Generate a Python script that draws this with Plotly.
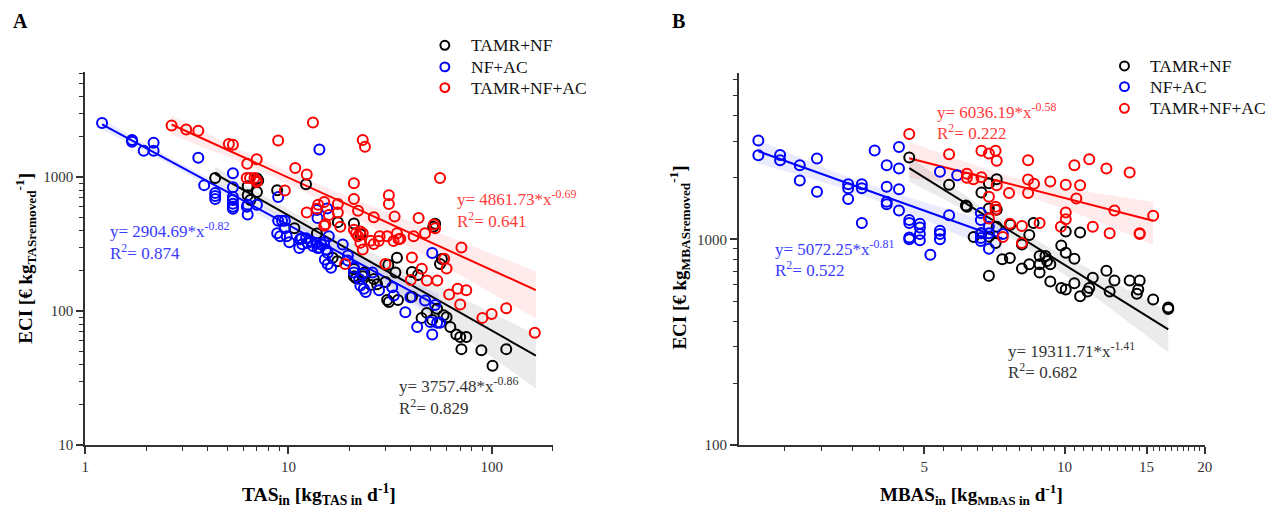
import numpy as np
import plotly.graph_objects as go

# ---------------- Panel A data: TAS_in vs ECI ----------------
A_TN_x = [4.36, 6.3, 6.3, 6.5, 7.0, 7.1, 7.0, 8.8, 10.7, 12.2, 13.8, 17.5, 17.4, 16.5, 21.0, 22.6, 21.0, 21.5, 21.0, 23.2,
          23.6, 25.4, 26.3, 27.3, 30.0, 30.6, 31.2, 34.6, 31.0, 33.6, 34.2, 40.5, 43.4, 40.5, 45.2, 48.0, 51.0, 53.9, 51.6, 52.7,
          55.7, 56.9, 58.0, 60.0, 62.6, 67.0, 70.0, 75.0, 71.0, 89.0, 101.0, 118.0]
A_TN_y = [985, 855, 735, 675, 980, 945, 775, 800, 415, 885, 380, 462, 236, 250, 452, 375, 182, 176, 206, 182,
          194, 157, 174, 159, 165, 121, 117, 121, 222, 194, 250, 196, 186, 128, 89, 97, 86, 104, 426, 450,
          225, 245, 93, 90, 76, 67, 64, 64, 52, 51, 39, 52]

A_NA_x = [1.21, 1.70, 1.70, 1.94, 2.17, 2.17, 3.60, 14.2, 3.85, 4.36, 4.36, 4.36, 5.33, 5.33, 5.33, 5.33, 5.33, 5.33, 5.33,
          6.3, 6.3, 7.0, 6.24, 8.9, 8.9, 9.3, 9.6, 8.8, 9.1, 9.6, 9.8, 10.1, 11.4, 11.7, 11.3, 11.6, 12.2, 12.4, 12.9, 13.2, 13.9,
          13.7, 14.5, 14.2, 13.8, 13.9, 15.5, 15.0, 15.3, 15.6, 15.1, 15.6, 16.2, 15.8, 18.5, 19.6, 19.6, 21.0, 21.0,
          22.3, 23.2, 22.6, 24.0, 23.5, 25.9, 27.9, 32.4, 33.0, 39.8, 37.6, 43.0, 47.0, 49.9, 51.0, 52.7, 53.9, 55.7, 51.0]
A_NA_y = [2540, 1900, 1840, 1580, 1810, 1580, 1400, 1610, 873, 763, 724, 689, 1070, 843, 713, 677, 633, 601, 582,
          622, 526, 622, 601, 713, 474, 474, 474, 381, 362, 415, 362, 327, 344, 316, 296, 350, 350, 322, 333, 306, 296,
          323, 315, 297, 569, 496, 585, 327, 289, 272, 243, 224, 211, 362, 314, 260, 239, 211, 194,
          174, 189, 155, 139, 147, 194, 143, 151, 131, 127, 98, 76, 120, 83, 67, 111, 82, 82, 272]

A_TNA_x = [2.66, 3.14, 3.6, 5.09, 5.33, 6.27, 6.98, 6.23, 6.47, 6.8, 6.98, 6.98, 8.9, 9.6, 10.8, 12.3, 12.3, 13.2, 13.8, 14.0,
           15.0, 15.0, 15.2, 15.8, 17.5, 17.5, 18.0, 19.0, 21.0, 21.0, 22.0, 21.0, 21.5, 22.0, 22.6, 23.2, 23.2, 23.8, 26.3, 22.6,
           23.2, 25.4, 26.3, 27.8, 28.1, 30.6, 32.9, 34.2, 34.8, 35.5, 41.3, 47.0, 31.2, 31.2, 33.3, 43.7, 52.0, 52.7, 55.7, 71.0,
           30.0, 40.5, 45.3, 48.0, 54.0, 58.4, 60.0, 40.0, 61.8, 68.0, 75.0, 70.0, 90.0, 100.0, 118.0, 163.0]
A_TNA_y = [2430, 2270, 2220, 1770, 1750, 1262, 1365, 985, 985, 985, 945, 920, 1880, 795, 1170, 1050, 545, 2560, 582, 622,
           654, 434, 446, 522, 630, 545, 426, 225, 900, 689, 562, 405, 381, 362, 324, 289, 1900, 1690, 502, 393,
           381, 336, 317, 334, 362, 362, 334, 381, 344, 347, 362, 381, 735, 630, 508, 495, 444, 415, 985, 298,
           225, 251, 207, 169, 169, 246, 208, 171, 133, 147, 143, 112, 89, 95, 105, 69]

# ---------------- Panel B data: MBAS_in vs ECI ----------------
B_TN_x = [4.64, 5.65, 6.14, 6.17, 6.63, 6.88, 7.15, 6.88, 7.15, 6.38, 6.63, 6.88, 7.15, 7.11, 7.65, 6.88, 7.35, 7.63, 8.1, 8.4,
          8.58, 8.1, 8.4, 8.84, 8.84, 8.84, 9.1, 9.17, 9.32, 9.32, 10.06, 10.8, 9.84, 10.06, 10.5, 9.84, 10.06, 10.5, 10.8, 11.2,
          11.3, 11.5, 12.3, 12.5, 12.8, 13.8, 14.5, 14.4, 14.3, 15.5, 16.7, 16.7]
B_TN_y = [2500, 1840, 1460, 1440, 1690, 1870, 1960, 1410, 1390, 1025, 1070, 1030, 1150, 960, 1175, 665, 800, 810, 943, 1050,
          1200, 720, 757, 829, 757, 690, 829, 785, 757, 623, 1090, 1080, 933, 860, 805, 580, 570, 612, 528, 558,
          580, 650, 703, 558, 630, 630, 630, 570, 543, 510, 466, 458]

B_NA_x = [2.20, 2.20, 2.45, 2.45, 2.70, 2.70, 2.94, 2.94, 3.43, 3.43, 3.43, 3.67, 3.67, 3.67, 3.91, 4.15, 4.15, 4.15, 4.15,
          4.41, 4.41, 4.41, 4.41, 4.64, 4.64, 4.64, 4.64, 4.89, 4.89, 4.89, 4.89, 5.40, 5.40, 5.40, 5.15, 5.40, 5.88, 5.65,
          6.61, 6.61, 6.61, 6.61, 6.61, 6.88, 6.88, 6.88, 7.37]
B_NA_y = [3020, 2560, 2570, 2420, 2290, 1930, 2470, 1700, 1850, 1770, 1570, 1850, 1770, 1200, 2700, 2290, 1800, 1520, 1480,
          2810, 2210, 1750, 1380, 1240, 1200, 1020, 1000, 1190, 1140, 1060, 990, 1100, 1060, 1000, 840, 2130, 2050, 1310,
          1340, 1240, 1070, 1015, 980, 1150, 1070, 900, 1060]

B_TNA_x = [4.64, 5.65, 6.63, 6.88, 7.11, 7.15, 6.17, 6.17, 6.37, 6.63, 7.15, 6.88, 7.6, 7.11, 7.11, 6.88, 8.35, 8.35, 8.35, 8.6,
           7.63, 8.1, 8.84, 8.1, 7.37, 9.32, 10.06, 10.5, 10.8, 10.6, 11.3, 12.3, 13.8, 10.06, 10.06, 9.82, 11.5, 12.5, 12.8,
           14.5, 14.5, 15.5]
B_TNA_y = [3250, 2590, 2690, 2610, 2690, 2410, 2080, 1990, 1960, 2000, 1830, 1610, 1680, 1440, 1390, 1260, 2420, 1950, 1680, 1860,
           1190, 1160, 1200, 960, 1025, 1910, 1840, 2290, 1830, 1580, 2450, 2210, 2110, 1350, 1250, 1150, 1150, 1070, 1380,
           1070, 1060, 1300]

# ---------------- Power-law fits (y = a * x^b) ----------------
SERIES = ["TAMR+NF", "NF+AC", "TAMR+NF+AC"]
A_fit_a = [3757.48, 2904.69, 4861.73]
A_fit_b = [-0.86, -0.82, -0.69]
A_fit_r2 = [0.829, 0.874, 0.641]
A_fit_xmin = [4.36, 1.21, 2.66]
A_fit_xmax = [165.0, 55.0, 165.0]

B_fit_a = [19311.71, 5072.25, 6036.19]
B_fit_b = [-1.41, -0.81, -0.58]
B_fit_r2 = [0.682, 0.522, 0.222]
B_fit_xmin = [4.64, 2.20, 4.64]
B_fit_xmax = [16.7, 7.35, 15.5]

COLORS = ["#000000", "#0000FF", "#FF0000"]
BAND_COLORS = ["rgba(0,0,0,0.08)", "rgba(0,0,255,0.08)", "rgba(255,0,0,0.08)"]
TEXT_COLORS = ["#333333", "#3a3aff", "#ff3a3a"]
FONT = "Liberation Serif"
T_VAL = 1.97

W, H = 1287, 515


def px(x):
    return x / W


def py(y):
    return 1 - y / H


def band(xs, ys, a, b, xmin, xmax):
    """95% confidence band of the nonlinear power fit (delta method, linear-space residuals)."""
    x = np.array(xs, float)
    y = np.array(ys, float)
    n = len(x)
    res = y - a * x ** b
    s2 = np.sum(res ** 2) / (n - 2)
    J = np.column_stack([x ** b, a * x ** b * np.log(x)])
    cov = s2 * np.linalg.inv(J.T @ J)
    xg = np.logspace(np.log10(xmin), np.log10(xmax), 80)
    G = np.column_stack([xg ** b, a * xg ** b * np.log(xg)])
    var = np.einsum("ij,jk,ik->i", G, cov, G)
    hw = T_VAL * np.sqrt(var)
    yf = a * xg ** b
    up = yf + hw
    lo = np.maximum(yf - hw, yf * 0.05)
    return xg, yf, up, lo


fig = go.Figure()

panels = [
    dict(xa="x", ya="y",
         data=[(A_TN_x, A_TN_y), (A_NA_x, A_NA_y), (A_TNA_x, A_TNA_y)],
         fa=A_fit_a, fb=A_fit_b, fmin=A_fit_xmin, fmax=A_fit_xmax),
    dict(xa="x2", ya="y2",
         data=[(B_TN_x, B_TN_y), (B_NA_x, B_NA_y), (B_TNA_x, B_TNA_y)],
         fa=B_fit_a, fb=B_fit_b, fmin=B_fit_xmin, fmax=B_fit_xmax),
]

for p in panels:
    fits = []
    for i in range(3):
        xs, ys = p["data"][i]
        fits.append(band(xs, ys, p["fa"][i], p["fb"][i], p["fmin"][i], p["fmax"][i]))
    for i in range(3):
        xg, yf, up, lo = fits[i]
        fig.add_trace(go.Scatter(x=np.concatenate([xg, xg[::-1]]), y=np.concatenate([up, lo[::-1]]),
                                 fill="toself", fillcolor=BAND_COLORS[i], line=dict(width=0),
                                 mode="lines", hoverinfo="skip", showlegend=False,
                                 xaxis=p["xa"], yaxis=p["ya"]))
    for i in range(3):
        xg, yf, up, lo = fits[i]
        fig.add_trace(go.Scatter(x=xg, y=yf, mode="lines", line=dict(color=COLORS[i], width=2),
                                 showlegend=False, hoverinfo="skip", xaxis=p["xa"], yaxis=p["ya"]))
    for i in range(3):
        xs, ys = p["data"][i]
        fig.add_trace(go.Scatter(x=xs, y=ys, mode="markers", name=SERIES[i], showlegend=False,
                                 marker=dict(symbol="circle-open", size=10, color=COLORS[i],
                                             line=dict(width=2, color=COLORS[i])),
                                 xaxis=p["xa"], yaxis=p["ya"]))

axis_common = dict(type="log", showline=True, linecolor="#333333", linewidth=2, ticks="outside",
                   ticklen=7, tickwidth=1.5, tickcolor="#333333", showgrid=False, zeroline=False,
                   tickfont=dict(family=FONT, size=15, color="#333333"), tickmode="array")
minor_common = dict(ticks="outside", ticklen=4, tickwidth=1.2, tickcolor="#333333", showgrid=False)


def decade_minor(lo, hi):
    vals = []
    d = lo
    while d < hi:
        for k in range(2, 10):
            if d * k <= hi:
                vals.append(d * k)
        d *= 10
    return vals


fig.update_layout(
    width=W, height=H, margin=dict(l=0, r=0, t=0, b=0),
    paper_bgcolor="white", plot_bgcolor="white",
    font=dict(family=FONT, size=15, color="#000"),
    showlegend=False,
    xaxis=dict(axis_common, domain=[px(82), px(554)], range=[0, np.log10(200)], anchor="y",
               tickvals=[1, 10, 100], ticktext=["1", "10", "100"],
               minor=dict(minor_common, tickvals=decade_minor(1, 200))),
    yaxis=dict(axis_common, domain=[py(452), py(73)], range=[1, 3.787], anchor="x",
               tickvals=[10, 100, 1000], ticktext=["10", "100", "1000"],
               minor=dict(minor_common, tickvals=decade_minor(10, 6000))),
    xaxis2=dict(axis_common, domain=[px(742), px(1212)], range=[np.log10(2), np.log10(20)], anchor="y2",
                tickvals=[5, 10, 15, 20], ticktext=["5", "10", "15", "20"],
                minor=dict(minor_common, tickvals=[v / 2 for v in range(5, 40) if v % 10 != 0])),
    yaxis2=dict(axis_common, domain=[py(452), py(74)], range=[2, 3.809], anchor="x2",
                tickvals=[100, 1000], ticktext=["100", "1000"],
                minor=dict(minor_common, tickvals=decade_minor(100, 6400))),
)

ann = []
shapes = []


def txt(x, y, s, size=17, color="#000", xanchor="left", angle=0):
    ann.append(dict(x=px(x), y=py(y), xref="paper", yref="paper", text=s, showarrow=False,
                    xanchor=xanchor, yanchor="middle", textangle=angle,
                    font=dict(family=FONT, size=size, color=color)))


# manual legends (symbol + label)
LEG_POS = [(445, [46, 68, 89]), (1131, [67, 88, 110])]
for lx, rows in LEG_POS:
    for i in range(3):
        cy = rows[i]
        shapes.append(dict(type="circle", xref="paper", yref="paper",
                           x0=px(lx - 4.5), x1=px(lx + 4.5), y0=py(cy + 4.5), y1=py(cy - 4.5),
                           line=dict(color=COLORS[i], width=2), fillcolor="rgba(0,0,0,0)"))
        txt(lx + 24, cy, SERIES[i], size=17.5, color="#111")

# panel letters
txt(7, 21, "<b>A</b>", size=20)
txt(672, 21, "<b>B</b>", size=20)

# axis titles
txt(318, 502, "<b>TAS<sub>in</sub> [kg<sub>TAS in</sub> d<sup>-1</sup>]</b>", size=19.5, xanchor="center")
txt(977, 502, "<b>MBAS<sub>in</sub> [kg<sub>MBAS in</sub> d<sup>-1</sup>]</b>", size=19, xanchor="center")
txt(22, 262, "<b>ECI [€ kg<sub>TASremoved</sub><sup>-1</sup>]</b>", size=19, xanchor="center", angle=-90)
txt(682, 262, "<b>ECI [€ kg<sub>MBASremoved</sub><sup>-1</sup>]</b>", size=19, xanchor="center", angle=-90)


def eq(a, b):
    return "y= {:.2f}*x<sup>{:.2f}</sup>".format(a, b)


def r2(v):
    return "R<sup>2</sup>= {:.3f}".format(v)


eqA_pos = [(397, 391), (105, 234), (455, 201)]
for i in range(3):
    x0, y0 = eqA_pos[i]
    txt(x0, y0, eq(A_fit_a[i], A_fit_b[i]), color=TEXT_COLORS[i])
    txt(x0, y0 + 22, r2(A_fit_r2[i]), color=TEXT_COLORS[i])

eqB_pos = [(1011, 356), (776, 252), (940, 113)]
for i in range(3):
    x0, y0 = eqB_pos[i]
    txt(x0, y0, eq(B_fit_a[i], B_fit_b[i]), color=TEXT_COLORS[i])
    txt(x0, y0 + 21, r2(B_fit_r2[i]), color=TEXT_COLORS[i])

fig.update_layout(annotations=ann, shapes=shapes)
fig.write_html("out.html")
